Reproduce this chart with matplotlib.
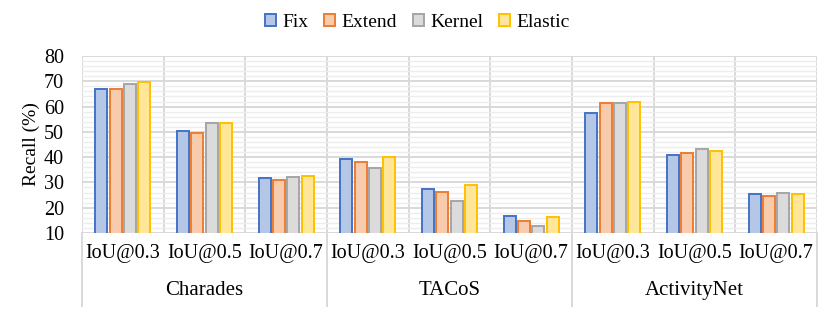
import numpy as np
import matplotlib.pyplot as plt
import matplotlib.transforms as mtransforms
from matplotlib.patches import Patch
from matplotlib.ticker import MultipleLocator

# Datos
groups = ['Charades', 'TACoS', 'ActivityNet']
ious = ['IoU@0.3', 'IoU@0.5', 'IoU@0.7']
methods = ['Fix', 'Extend', 'Kernel', 'Elastic']

fix = [67.1, 50.4, 31.6, 39.1, 27.5, 16.7, 57.4, 40.7, 25.3]
extend = [67.0, 49.4, 31.1, 37.9, 26.1, 14.6, 61.4, 41.5, 24.7]
kernel = [68.8, 53.4, 32.3, 35.6, 22.5, 12.8, 61.4, 43.1, 25.9]
elastic = [69.9, 53.4, 32.7, 40.2, 28.9, 16.2, 61.9, 42.5, 25.3]

face_colors = ['#B4C7E7', '#F8CBAD', '#DBDBDB', '#FFE699']
edge_colors = ['#4472C4', '#ED7D31', '#A5A5A5', '#FFC000']

plt.rcParams['font.family'] = ['Liberation Serif', 'DejaVu Serif']

fig = plt.figure(figsize=(8.3, 3.11), dpi=100)
ax = fig.add_axes([82 / 830, 1 - 233 / 311, 735 / 830, 177 / 311])

x = np.arange(len(fix))
width = 0.145
step = 0.175
series = [fix, extend, kernel, elastic]
for i, vals in enumerate(series):
    ax.bar(x + (i - 1.5) * step, vals, width, bottom=0,
           color=face_colors[i], edgecolor=edge_colors[i], linewidth=1.4,
           label=methods[i], zorder=3)

ax.set_xlim(-0.5, len(fix) - 0.5)
ax.set_ylim(10, 80)
ax.yaxis.set_major_locator(MultipleLocator(10))
ax.yaxis.set_minor_locator(MultipleLocator(2))
ax.grid(which='minor', axis='y', color='#EDEDED', linewidth=1.0, zorder=0)
ax.grid(which='major', axis='y', color='#D9D9D9', linewidth=1.4, zorder=1)
for b in np.arange(-0.5, len(fix), 1.0):
    ax.axvline(b, color='#D9D9D9', linewidth=1.4, zorder=1)

for s in ax.spines.values():
    s.set_visible(False)
ax.set_xticks([])
ax.tick_params(axis='y', which='both', length=0, labelsize=14.5, pad=13)
ax.set_ylabel('Recall (%)', fontsize=14, labelpad=3)

# Ejes de categorias en dos niveles
trans = mtransforms.blended_transform_factory(ax.transData, ax.transAxes)
for k in range(len(fix)):
    ax.text(k, -0.113, ious[k % 3], transform=trans, ha='center', va='center',
            fontsize=14.5)
for g, name in enumerate(groups):
    ax.text(g * 3 + 1, -0.325, name, transform=trans, ha='center', va='center',
            fontsize=15)
for b in [-0.5, 2.5, 5.5, 8.5]:
    ax.plot([b, b], [0, -0.41], transform=trans, color='#D9D9D9',
            linewidth=1.4, clip_on=False)

handles = [Patch(facecolor=face_colors[i], edgecolor=edge_colors[i],
                 linewidth=1.4, label=methods[i]) for i in range(4)]
fig.legend(handles=handles, loc='center', bbox_to_anchor=(0.503, 0.929),
           ncol=4, frameon=False, fontsize=14, handlelength=0.55,
           handleheight=0.6, handletextpad=0.35, columnspacing=0.8)

fig.savefig('out.png', dpi=100)
